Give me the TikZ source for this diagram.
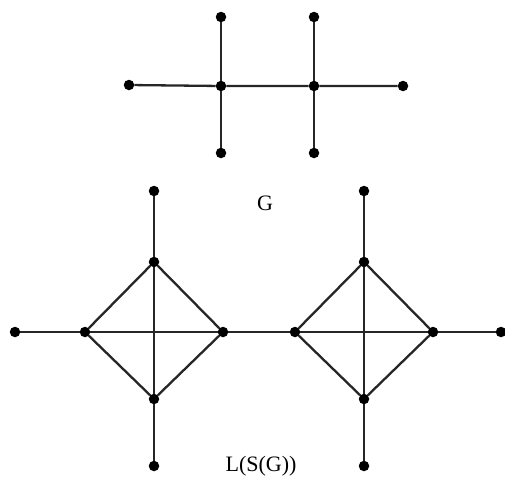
\documentclass[tikz,border=0pt]{standalone}
\usepackage{fontspec}
\setmainfont{Liberation Serif}
\begin{document}
\begin{tikzpicture}[x=1pt,y=-1pt,
  vtx/.style={circle,fill=black,inner sep=0pt,minimum size=10.5pt},
  edge/.style={line width=2.3pt,black!85},
  lbl/.style={font=\fontsize{22}{26}\selectfont,inner sep=0pt}]
\useasboundingbox (0,0) rectangle (505,479);
% graph G
\node[vtx] (a1) at (221,17) {};
\node[vtx] (a2) at (314,17) {};
\node[vtx] (a3) at (129,85) {};
\node[vtx] (a4) at (221,86) {};
\node[vtx] (a5) at (314,86) {};
\node[vtx] (a6) at (403,86) {};
\node[vtx] (a7) at (221,153) {};
\node[vtx] (a8) at (314,153) {};
\draw[edge] (a1) -- (a4) -- (a7);
\draw[edge] (a2) -- (a5) -- (a8);
\draw[edge] (a3) -- (a4) -- (a5) -- (a6);
\node[lbl] (g) at (265,203) {G};
% L(S(G))
\node[vtx] (p1) at (154,191) {};
\node[vtx] (t1) at (154,262) {};
\node[vtx] (l1) at (85,332) {};
\node[vtx] (r1) at (223,332) {};
\node[vtx] (b1) at (154,399) {};
\node[vtx] (q1) at (154,466) {};
\node[vtx] (e1) at (15,332) {};
\node[vtx] (p2) at (364,191) {};
\node[vtx] (t2) at (364,262) {};
\node[vtx] (l2) at (295,332) {};
\node[vtx] (r2) at (433,332) {};
\node[vtx] (b2) at (364,399) {};
\node[vtx] (q2) at (364,466) {};
\node[vtx] (e2) at (501,332) {};
\draw[edge] (p1) -- (t1) -- (b1) -- (q1);
\draw[edge] (t1) -- (l1) -- (b1) -- (r1) -- (t1);
\draw[edge] (p2) -- (t2) -- (b2) -- (q2);
\draw[edge] (t2) -- (l2) -- (b2) -- (r2) -- (t2);
\draw[edge] (e1) -- (l1) -- (r1) -- (l2) -- (r2) -- (e2);
\node[lbl] (ls) at (261,466) {L(S(G))};
\end{tikzpicture}
\end{document}
